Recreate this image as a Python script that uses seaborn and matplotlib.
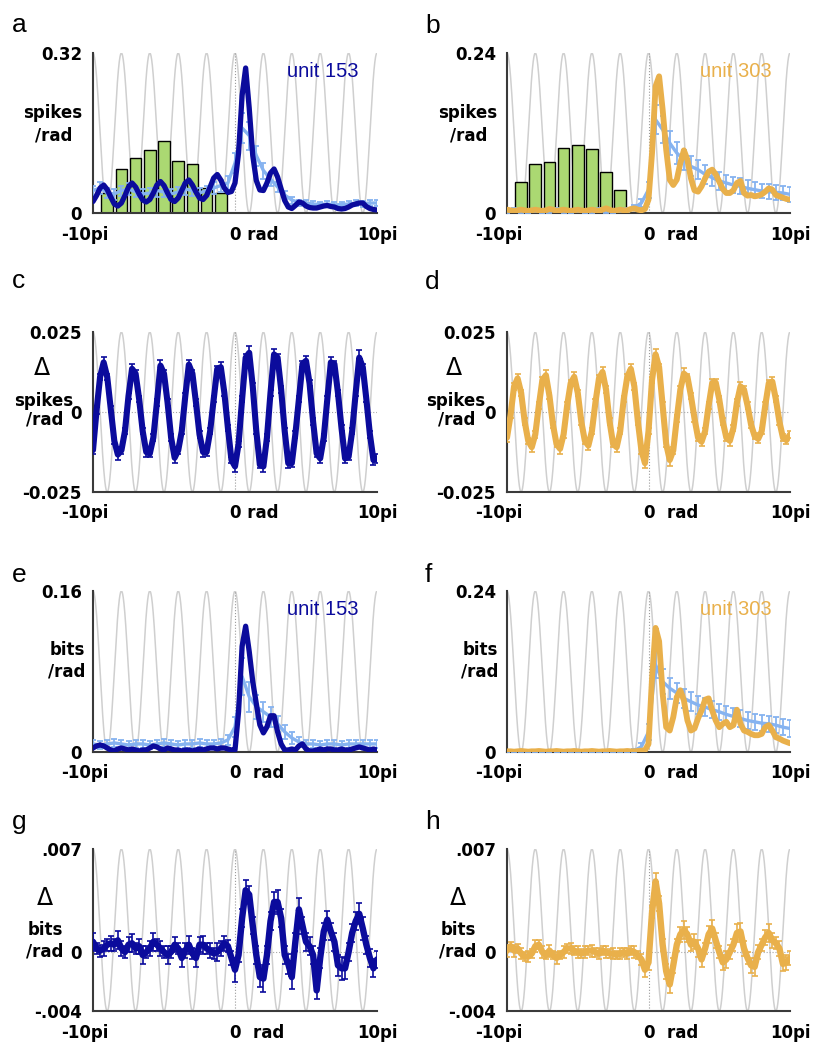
import numpy as np
import matplotlib
matplotlib.use("Agg")
import matplotlib.pyplot as plt
from matplotlib.transforms import ScaledTranslation
import seaborn as sns

sns.set_theme(style="white")
plt.rcParams["font.family"] = ["DejaVu Sans"]
plt.rcParams["text.color"] = "black"

W, H = 814, 1045

# phase axis in units of pi (-10pi .. 10pi)
phase = np.linspace(-10, 10, 81)        # main traces, pi/4 steps
phase_sh = np.linspace(-10, 10, 41)     # light-blue control traces, pi/2 steps
phase_ref = np.linspace(-10, 10, 2001)  # reference oscillation (grey)

# ---------------- a : unit 153, spikes/rad
hist_pos_a = [-9, -8, -7, -6, -5, -4, -3, -2, -1]
hist_a = [0.040, 0.088, 0.110, 0.126, 0.144, 0.105, 0.098, 0.050, 0.040]
a_rate = [0.023, 0.035, 0.050, 0.056, 0.047, 0.032, 0.018, 0.014, 0.020, 0.035,
          0.052, 0.060, 0.052, 0.038, 0.026, 0.022, 0.027, 0.040, 0.056, 0.063,
          0.055, 0.040, 0.027, 0.023, 0.030, 0.045, 0.060, 0.066, 0.056, 0.042,
          0.030, 0.027, 0.035, 0.052, 0.070, 0.077, 0.066, 0.050, 0.041, 0.043,
          0.060, 0.120, 0.235, 0.290, 0.210, 0.115, 0.065, 0.046, 0.045, 0.060,
          0.080, 0.088, 0.072, 0.048, 0.025, 0.012, 0.009, 0.015, 0.022, 0.020,
          0.014, 0.011, 0.010, 0.010, 0.012, 0.014, 0.015, 0.013, 0.012, 0.009,
          0.008, 0.009, 0.012, 0.016, 0.018, 0.020, 0.020, 0.013, 0.009, 0.007,
          0.006]
a_ctrl = [0.045, 0.050, 0.040, 0.038, 0.045, 0.048, 0.042, 0.038, 0.040, 0.045,
          0.042, 0.038, 0.042, 0.048, 0.045, 0.040, 0.045, 0.050, 0.055, 0.060,
          0.100, 0.170, 0.155, 0.115, 0.085, 0.068, 0.052, 0.036, 0.026, 0.021,
          0.020, 0.018, 0.017, 0.018, 0.016, 0.017, 0.018, 0.020, 0.019, 0.020, 0.020]
a_ctrl_err = [0.010, 0.012, 0.010, 0.011, 0.010, 0.012, 0.010, 0.011, 0.010, 0.012,
              0.010, 0.011, 0.010, 0.012, 0.010, 0.011, 0.010, 0.012, 0.012, 0.014,
              0.020, 0.030, 0.028, 0.020, 0.016, 0.013, 0.010, 0.008, 0.007, 0.006,
              0.006, 0.006, 0.005, 0.006, 0.006, 0.005, 0.006, 0.006, 0.006, 0.006, 0.006]

# ---------------- b : unit 303, spikes/rad
hist_pos_b = [-9, -8, -7, -6, -5, -4, -3, -2]
hist_b = [0.047, 0.074, 0.077, 0.098, 0.102, 0.096, 0.062, 0.035]
b_rate = [0.005, 0.004, 0.003, 0.004, 0.005, 0.004, 0.003, 0.004, 0.005, 0.004,
          0.003, 0.004, 0.006, 0.005, 0.003, 0.004, 0.005, 0.004, 0.003, 0.004,
          0.005, 0.004, 0.003, 0.004, 0.005, 0.004, 0.003, 0.005, 0.007, 0.005,
          0.003, 0.004, 0.005, 0.004, 0.004, 0.006, 0.007, 0.005, 0.004, 0.006,
          0.020, 0.090, 0.190, 0.205, 0.155, 0.095, 0.050, 0.042, 0.050, 0.075,
          0.094, 0.080, 0.052, 0.034, 0.032, 0.040, 0.052, 0.062, 0.065, 0.058,
          0.047, 0.036, 0.030, 0.030, 0.034, 0.045, 0.048, 0.030, 0.026, 0.027,
          0.025, 0.026, 0.028, 0.032, 0.037, 0.035, 0.027, 0.025, 0.023, 0.021,
          0.020]
b_ctrl = [0.003, 0.004, 0.003, 0.003, 0.004, 0.003, 0.003, 0.004, 0.003, 0.003,
          0.004, 0.003, 0.003, 0.004, 0.003, 0.003, 0.004, 0.004, 0.008, 0.015,
          0.035, 0.140, 0.125, 0.105, 0.090, 0.080, 0.070, 0.065, 0.058, 0.053,
          0.048, 0.045, 0.042, 0.040, 0.037, 0.035, 0.033, 0.032, 0.031, 0.030, 0.028]
b_ctrl_err = [0.003, 0.003, 0.003, 0.003, 0.003, 0.003, 0.003, 0.003, 0.003, 0.003,
              0.003, 0.003, 0.003, 0.003, 0.003, 0.003, 0.003, 0.003, 0.004, 0.006,
              0.012, 0.022, 0.020, 0.018, 0.016, 0.015, 0.015, 0.014, 0.014, 0.013,
              0.013, 0.012, 0.012, 0.012, 0.012, 0.011, 0.011, 0.011, 0.011, 0.011, 0.011]

# ---------------- c / d : delta spikes/rad (x 1e-3)
c_delta = [-11.9, 0.5, 11.0, 15.5, 11.0, 1.0, -9.0, -13.3, -12.0, -6.0,
           5.0, 13.5, 12.0, 4.0, -6.0, -12.5, -13.0, -8.0, 3.0, 14.5,
           12.0, 3.0, -8.0, -14.3, -12.0, -6.0, 5.0, 14.8, 12.0, 3.0,
           -7.0, -12.5, -12.5, -6.0, 4.0, 13.5, 14.0, 6.0, -5.0, -15.0,
           -17.0, -10.0, 4.0, 17.0, 18.5, 8.0, -6.0, -16.5, -17.0, -8.0,
           6.0, 18.0, 17.0, 7.0, -6.0, -16.0, -16.0, -7.0, 4.0, 15.0,
           16.0, 9.0, -3.0, -13.0, -14.5, -8.0, 4.0, 15.5, 15.0, 6.0,
           -5.0, -14.5, -14.0, -6.0, 6.0, 17.0, 14.0, 4.0, -7.0, -15.0,
           -14.5]
c_err = [1.2, 1.0, 1.0, 1.8, 1.0, 1.0, 1.0, 1.6, 1.0, 1.0,
         1.0, 1.6, 1.0, 1.0, 1.0, 1.6, 1.2, 1.0, 1.0, 1.6,
         1.0, 1.0, 1.0, 1.5, 1.0, 1.0, 1.0, 1.6, 1.0, 1.0,
         1.0, 1.6, 1.2, 1.0, 1.0, 1.0, 1.7, 1.0, 1.0, 1.0,
         1.9, 1.0, 1.0, 1.0, 2.0, 1.0, 1.0, 1.0, 1.9, 1.0,
         1.0, 1.7, 1.0, 1.0, 1.0, 1.5, 1.2, 1.0, 1.0, 1.0,
         1.6, 1.0, 1.0, 1.0, 1.5, 1.0, 1.0, 1.8, 1.0, 1.0,
         1.0, 1.5, 1.0, 1.0, 1.0, 2.5, 1.0, 1.0, 1.0, 1.6,
         1.5]
d_delta = [-8.0, -1.0, 8.0, 10.5, 6.0, -3.0, -9.0, -11.0, -7.0, 2.0,
           10.0, 11.5, 5.0, -4.0, -10.0, -11.5, -7.0, 2.0, 9.0, 11.0,
           6.0, -3.0, -9.0, -10.5, -6.0, 3.0, 10.5, 12.5, 7.0, -3.0,
           -10.0, -11.0, -6.0, 4.0, 11.0, 13.5, 8.0, -3.0, -12.0, -16.0,
           -6.0, 10.0, 18.0, 14.0, 2.0, -10.0, -15.0, -12.0, -2.0, 7.0,
           12.0, 11.0, 5.0, -2.0, -8.0, -9.3, -6.0, 2.0, 9.0, 9.2,
           4.0, -3.0, -8.0, -9.0, -5.0, 3.0, 8.0, 7.0, 2.0, -4.0,
           -7.5, -8.4, -6.0, 2.0, 9.0, 9.5, 4.0, -3.0, -8.0, -8.8,
           -7.0]
d_err = [1.5, 1.0, 1.0, 1.5, 1.0, 1.0, 1.0, 1.5, 1.0, 1.0,
         1.0, 1.6, 1.0, 1.0, 1.0, 1.6, 1.0, 1.0, 1.0, 1.4,
         1.0, 1.0, 1.0, 1.4, 1.0, 1.0, 1.0, 1.6, 1.0, 1.0,
         1.0, 1.5, 1.0, 1.0, 1.0, 1.4, 1.0, 1.0, 1.0, 1.5,
         1.0, 1.0, 1.6, 1.0, 1.0, 1.0, 2.0, 1.0, 1.0, 1.0,
         1.6, 1.0, 1.0, 1.0, 1.0, 1.4, 1.0, 1.0, 1.2, 1.0,
         1.0, 1.0, 1.0, 1.5, 1.0, 1.0, 1.3, 1.0, 1.0, 1.0,
         1.0, 1.3, 1.0, 1.0, 1.0, 1.3, 1.0, 1.0, 1.0, 1.3,
         1.2]

# ---------------- e / f : bits/rad
e_bits = [0.004, 0.006, 0.007, 0.006, 0.004, 0.002, 0.001, 0.003, 0.004, 0.003,
          0.002, 0.003, 0.002, 0.001, 0.002, 0.002, 0.004, 0.006, 0.005, 0.003,
          0.002, 0.004, 0.003, 0.002, 0.002, 0.001, 0.002, 0.002, 0.001, 0.002,
          0.003, 0.002, 0.003, 0.004, 0.004, 0.003, 0.004, 0.004, 0.003, 0.002,
          0.002, 0.040, 0.105, 0.125, 0.100, 0.070, 0.048, 0.027, 0.019, 0.025,
          0.036, 0.036, 0.020, 0.008, 0.002, 0.002, 0.003, 0.002, 0.006, 0.008,
          0.003, 0.001, 0.001, 0.002, 0.003, 0.002, 0.003, 0.003, 0.002, 0.002,
          0.003, 0.002, 0.002, 0.003, 0.004, 0.005, 0.004, 0.003, 0.002, 0.003,
          0.002]
e_ctrl = [0.008, 0.007, 0.008, 0.009, 0.008, 0.007, 0.008, 0.008, 0.007, 0.008,
          0.009, 0.008, 0.007, 0.008, 0.008, 0.009, 0.008, 0.008, 0.009, 0.012,
          0.025, 0.075, 0.055, 0.045, 0.040, 0.035, 0.028, 0.020, 0.014, 0.010,
          0.008, 0.008, 0.007, 0.008, 0.008, 0.007, 0.008, 0.008, 0.008, 0.008, 0.008]
e_ctrl_err = [0.004, 0.004, 0.004, 0.004, 0.004, 0.004, 0.004, 0.004, 0.004, 0.004,
              0.004, 0.004, 0.004, 0.004, 0.004, 0.004, 0.004, 0.004, 0.004, 0.005,
              0.010, 0.018, 0.015, 0.012, 0.010, 0.010, 0.008, 0.007, 0.006, 0.005,
              0.004, 0.004, 0.004, 0.004, 0.004, 0.004, 0.004, 0.004, 0.004, 0.004, 0.004]
f_bits = [0.001, 0.001, 0.0005, 0.001, 0.0015, 0.001, 0.0005, 0.001, 0.001, 0.0015,
          0.001, 0.0005, 0.001, 0.001, 0.0015, 0.001, 0.0005, 0.001, 0.001, 0.0015,
          0.001, 0.0005, 0.001, 0.001, 0.0015, 0.001, 0.0005, 0.001, 0.001, 0.0015,
          0.001, 0.0005, 0.001, 0.001, 0.0015, 0.001, 0.001, 0.0015, 0.002, 0.0025,
          0.012, 0.110, 0.185, 0.165, 0.087, 0.037, 0.032, 0.052, 0.082, 0.092,
          0.077, 0.047, 0.032, 0.035, 0.050, 0.062, 0.078, 0.080, 0.062, 0.047,
          0.037, 0.042, 0.045, 0.037, 0.040, 0.063, 0.042, 0.032, 0.030, 0.027,
          0.025, 0.025, 0.027, 0.037, 0.040, 0.032, 0.022, 0.020, 0.017, 0.015,
          0.013]
f_ctrl = [0.0005, 0.0005, 0.0005, 0.0005, 0.0005, 0.0005, 0.0005, 0.0005, 0.0005, 0.0005,
          0.0005, 0.0005, 0.0005, 0.0005, 0.0005, 0.0005, 0.0005, 0.0005, 0.002, 0.008,
          0.030, 0.130, 0.105, 0.095, 0.088, 0.080, 0.075, 0.070, 0.067, 0.063,
          0.060, 0.056, 0.053, 0.050, 0.047, 0.045, 0.043, 0.042, 0.040, 0.037, 0.035]
f_ctrl_err = [0.001, 0.001, 0.001, 0.001, 0.001, 0.001, 0.001, 0.001, 0.001, 0.001,
              0.001, 0.001, 0.001, 0.001, 0.001, 0.001, 0.001, 0.001, 0.003, 0.006,
              0.012, 0.020, 0.018, 0.016, 0.015, 0.014, 0.014, 0.013, 0.013, 0.013,
              0.012, 0.012, 0.012, 0.012, 0.012, 0.012, 0.012, 0.012, 0.012, 0.012, 0.012]

# ---------------- g / h : delta bits/rad (x 1e-4)
g_delta = [7, 2.5, 1, 2.5, 5, 6, 5, 8, 2.5, 0,
           5, 6, 2.5, 4, -2, 0, 2.5, 7, 5, 2.5,
           0, -2, 0, 5, 2.5, -4, 1, 5, -1, -4,
           5, 5, 2.5, 1, -1, 0, 2.5, 6, 4, -4,
           -12, -2, 23, 42, 39, 18, -2, -17, -18, -2,
           21, 34, 34, 23, -2, -8, -17, 7, 29, 18,
           7, 4, -2, -26, -4, 14, 22, 14, 7, -9,
           -11, -11, 0, 13, 21, 26, 16, 5, -4, -11,
           -5]
g_err = [6, 4, 4, 5, 4, 5, 4, 6, 5, 4,
         5, 6, 4, 5, 6, 4, 5, 6, 4, 5,
         4, 6, 4, 5, 4, 6, 5, 6, 4, 6,
         5, 6, 4, 5, 4, 6, 5, 5, 4, 5,
         8, 5, 6, 7, 6, 6, 6, 7, 9, 6,
         6, 7, 8, 6, 6, 7, 8, 6, 8, 6,
         6, 6, 6, 6, 7, 6, 6, 6, 6, 7,
         8, 7, 6, 6, 6, 7, 8, 6, 6, 6,
         6]
h_delta = [1, 4, 1, 2.5, -1, -3, -3, -1, 4, 5,
           0, -2, 1, -2, -4, -2, 0, 2.5, 2.5, 1,
           0, -1, 0, 1, 1, 0, -1, 1, 0, -1,
           -1, -2, -1, 0, -1, 1, 0, -2, -5, -12,
           -7, 27, 48, 33, 5, -13, -22, -9, 5, 12,
           15, 12, 5, 7, 2.5, -5, 2.5, 12, 16, 8,
           0, -7, -5, 0, 5, 13, 14, 2.5, -4, -9,
           -10, 0, 5, 10, 13, 8, 6, 2.5, -8, -7,
           -4]
h_err = [4, 3, 4, 3, 4, 3, 4, 3, 4, 3,
         4, 3, 4, 3, 4, 3, 4, 3, 4, 3,
         4, 3, 4, 3, 4, 3, 4, 3, 4, 3,
         4, 3, 4, 3, 4, 3, 4, 3, 4, 5,
         5, 4, 6, 5, 4, 5, 6, 5, 4, 5,
         6, 5, 4, 5, 6, 5, 4, 6, 6, 5,
         4, 5, 6, 5, 4, 6, 6, 5, 4, 5,
         6, 5, 4, 5, 6, 5, 4, 5, 5, 5,
         5]

NAVY = "#0b0b9c"
ORANGE = "#e9b04b"
LIGHT = "#86b3f0"
GREEN = "#abd872"
GREY = "#cfcfcf"

fig = plt.figure(figsize=(W / 100, H / 100), dpi=100)


def add_axes(left, top, right, bottom):
    return fig.add_axes([left / W, 1 - bottom / H, (right - left) / W, (bottom - top) / H])


def ftext(x, y, s, **kw):
    fig.text(x / W, 1 - y / H, s, **kw)


def base(ax, ylim, yticks, ylabels, zero_lbl, zero_line):
    ax.plot(phase_ref, 0.5 + 0.5 * np.cos(np.pi * phase_ref), color=GREY, lw=1.1,
            transform=ax.get_xaxis_transform(), zorder=1)
    ax.axvline(0, color="#9a9a9a", lw=0.8, ls=":", zorder=1.5)
    if zero_line:
        ax.axhline(0, color="#a8a8a8", lw=0.8, ls=":", zorder=1.5)
    ax.set_xlim(-10, 10)
    ax.set_ylim(*ylim)
    ax.set_xticks([-10, 0, 10], ["-10pi", zero_lbl, "10pi"])
    ax.set_yticks(yticks, ylabels)
    ax.set_xlabel("")
    ax.set_ylabel("")
    for side in ["top", "right"]:
        ax.spines[side].set_visible(False)
    for side in ["left", "bottom"]:
        ax.spines[side].set_color("#3a3a3a")
        ax.spines[side].set_linewidth(1.5)
    ax.tick_params(axis="both", length=2, width=1, color="#3a3a3a",
                   labelsize=12, labelcolor="black")
    ax.tick_params(axis="x", pad=7)
    ax.tick_params(axis="y", pad=6)
    for lab in ax.get_xticklabels() + ax.get_yticklabels():
        lab.set_fontweight("bold")
    labs = ax.get_xticklabels()
    labs[0].set_transform(labs[0].get_transform() + ScaledTranslation(-8 / 100, 0, fig.dpi_scale_trans))
    labs[1].set_horizontalalignment("left")
    labs[1].set_transform(labs[1].get_transform() + ScaledTranslation(-5 / 100, 0, fig.dpi_scale_trans))
    ax.set_facecolor("white")


def rate_panel(ax, hist_pos, hist, rate, ctrl, ctrl_err, color, lw):
    if hist is not None:
        sns.barplot(x=hist_pos, y=hist, native_scale=True, width=0.82, color=GREEN,
                    saturation=1, edgecolor="black", linewidth=1, errorbar=None, ax=ax)
        for p in ax.patches:
            p.set_zorder(2)
    ax.errorbar(phase_sh, ctrl, yerr=ctrl_err, fmt="none", ecolor=LIGHT,
                elinewidth=1.3, capsize=2.5, capthick=1.3, zorder=3)
    sns.lineplot(x=phase_sh, y=ctrl, color=LIGHT, lw=2.4, ax=ax, zorder=3)
    sns.lineplot(x=phase, y=rate, color=color, lw=lw, ax=ax, zorder=4)


def delta_panel(ax, vals, err, color, lw):
    ax.errorbar(phase, vals, yerr=err, fmt="none", ecolor=color,
                elinewidth=1.2, capsize=2.5, capthick=1.2, zorder=3)
    sns.lineplot(x=phase, y=vals, color=color, lw=lw, ax=ax, zorder=4)


# ---- row 1
ax_a = add_axes(93, 53, 377, 213)
rate_panel(ax_a, hist_pos_a, hist_a, a_rate, a_ctrl, a_ctrl_err, NAVY, 3.8)
base(ax_a, (0, 0.32), [0, 0.32], ["0", "0.32"], "0 rad", False)

ax_b = add_axes(507, 53, 790, 213)
rate_panel(ax_b, hist_pos_b, hist_b, b_rate, b_ctrl, b_ctrl_err, ORANGE, 4.2)
base(ax_b, (0, 0.24), [0, 0.24], ["0", "0.24"], "0  rad", False)

# ---- row 2
ax_c = add_axes(93, 332, 377, 492)
delta_panel(ax_c, np.array(c_delta) * 1e-3, np.array(c_err) * 1e-3, NAVY, 4.4)
base(ax_c, (-0.025, 0.025), [-0.025, 0, 0.025], ["-0.025", "0", "0.025"], "0 rad", True)

ax_d = add_axes(507, 332, 790, 492)
delta_panel(ax_d, np.array(d_delta) * 1e-3, np.array(d_err) * 1e-3, ORANGE, 4.4)
base(ax_d, (-0.025, 0.025), [-0.025, 0, 0.025], ["-0.025", "0", "0.025"], "0  rad", True)

# ---- row 3
ax_e = add_axes(93, 591, 377, 752)
rate_panel(ax_e, None, None, e_bits, e_ctrl, e_ctrl_err, NAVY, 3.8)
base(ax_e, (0, 0.16), [0, 0.16], ["0", "0.16"], "0  rad", False)

ax_f = add_axes(507, 591, 790, 752)
rate_panel(ax_f, None, None, f_bits, f_ctrl, f_ctrl_err, ORANGE, 4.2)
base(ax_f, (0, 0.24), [0, 0.24], ["0", "0.24"], "0  rad", False)

# ---- row 4
ax_g = add_axes(93, 849, 377, 1011)
delta_panel(ax_g, np.array(g_delta) * 1e-4, np.array(g_err) * 1e-4, NAVY, 4.6)
base(ax_g, (-0.004, 0.007), [-0.004, 0, 0.007], ["-.004", "0", ".007"], "0  rad", True)

ax_h = add_axes(507, 849, 790, 1011)
delta_panel(ax_h, np.array(h_delta) * 1e-4, np.array(h_err) * 1e-4, ORANGE, 4.6)
base(ax_h, (-0.004, 0.007), [-0.004, 0, 0.007], ["-.004", "0", ".007"], "0  rad", True)

# ---- panel letters
letter_kw = dict(fontsize=19, family=["Liberation Sans", "DejaVu Sans"], va="baseline",
                 ha="left", color="black")
for s, x, y in [("a", 12, 32), ("b", 425, 33), ("c", 12, 288), ("d", 425, 289),
                ("e", 12, 582), ("f", 425, 582), ("g", 12, 829), ("h", 425, 829)]:
    ftext(x, y, s, **letter_kw)

# ---- y-axis captions
cap_kw = dict(fontsize=12, fontweight="bold", ha="center", va="baseline", color="black")
delta_kw = dict(fontsize=17, ha="center", va="baseline", color="black")
for xc in (53, 468):
    ftext(xc, 118, "spikes", **cap_kw)
    ftext(xc + 1, 140, "/rad", **cap_kw)
for xc in (44, 456):
    ftext(xc - 2, 375, "Δ", **delta_kw)
    ftext(xc, 406, "spikes", **cap_kw)
    ftext(xc + 1, 424, "/rad", **cap_kw)
for xc in (67, 480):
    ftext(xc, 655, "bits", **cap_kw)
    ftext(xc, 677, "/rad", **cap_kw)
for xc in (45, 458):
    ftext(xc, 905, "Δ", **delta_kw)
    ftext(xc, 935, "bits", **cap_kw)
    ftext(xc, 957, "/rad", **cap_kw)

# ---- unit labels
unit_kw = dict(fontsize=14.5, family=["Liberation Sans", "DejaVu Sans"], va="baseline", ha="left")
ftext(287, 77, "unit 153", color=NAVY, **unit_kw)
ftext(700, 77, "unit 303", color=ORANGE, **unit_kw)
ftext(287, 615, "unit 153", color=NAVY, **unit_kw)
ftext(700, 615, "unit 303", color=ORANGE, **unit_kw)

fig.savefig("out.png", dpi=100, facecolor="white")
